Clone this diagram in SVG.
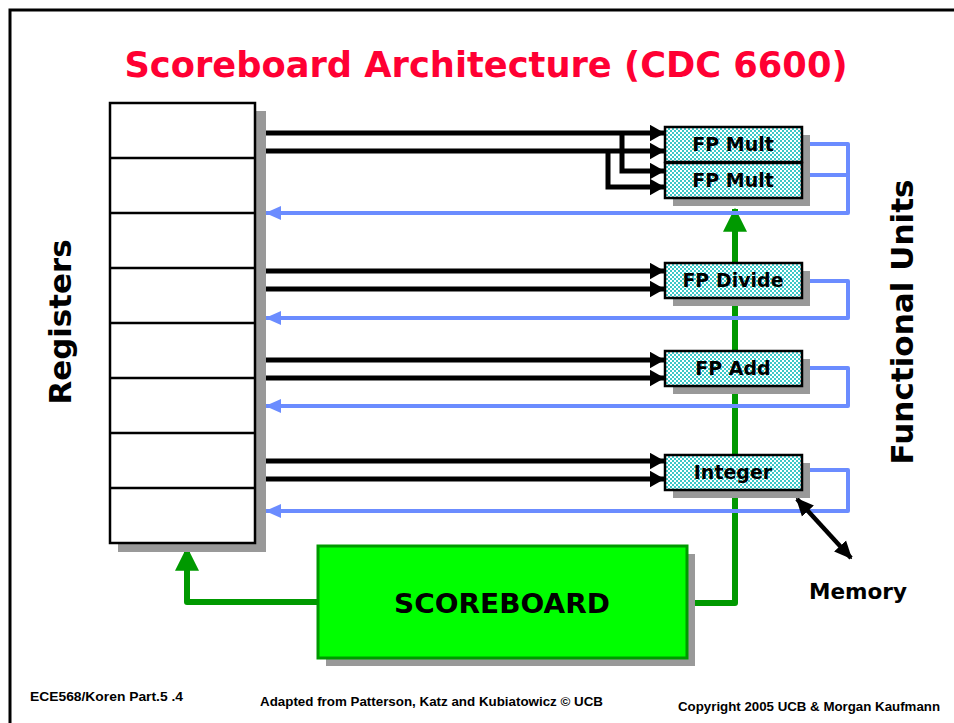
<svg xmlns="http://www.w3.org/2000/svg" width="954" height="723" viewBox="0 0 954 723">
<defs>
<style>
.shadow{fill:#999999}
.reg{fill:#ffffff;stroke:#000;stroke-width:2.5}
.fu{fill:url(#check);stroke:#000;stroke-width:2.5}
.fut{font-family:"DejaVu Sans","Liberation Sans",sans-serif;font-weight:bold;font-size:19px;fill:#000;text-anchor:middle}
.blk{stroke:#000;stroke-width:5;fill:none}
.blu{stroke:#6b8cff;stroke-width:4;fill:none;stroke-linejoin:round}
.grn{stroke:#009900;stroke-width:6;fill:none;stroke-linejoin:round}
.big{font-family:"DejaVu Sans","Liberation Sans",sans-serif;font-weight:bold;fill:#000}
.foot{font-family:"Liberation Sans",Arial,sans-serif;font-weight:bold;font-size:13px;fill:#000}
</style>
<pattern id="check" width="4" height="4" patternUnits="userSpaceOnUse">
<rect width="4" height="4" fill="#ffffff"/>
<rect width="2" height="2" fill="#3cc8c8"/>
<rect x="2" y="2" width="2" height="2" fill="#3cc8c8"/>
</pattern>
<marker id="ab" markerWidth="3" markerHeight="3.4" refX="2.9" refY="1.7" orient="auto" markerUnits="strokeWidth" viewBox="0 0 3 3.4">
<path d="M0,0 L3,1.7 L0,3.4 Z" fill="#000"/>
</marker>
<marker id="am" markerWidth="4" markerHeight="4" refX="3.6" refY="2" orient="auto" markerUnits="strokeWidth" viewBox="0 0 4 4">
<path d="M0,0.2 L4,2 L0,3.8 Z" fill="#000"/>
</marker>
<marker id="ams" markerWidth="4" markerHeight="4" refX="0.4" refY="2" orient="auto" markerUnits="strokeWidth" viewBox="0 0 4 4">
<path d="M4,0.2 L0,2 L4,3.8 Z" fill="#000"/>
</marker>
<marker id="ablu" markerWidth="4" markerHeight="4" refX="3.8" refY="2" orient="auto" markerUnits="strokeWidth" viewBox="0 0 4 4">
<path d="M0,0.2 L4,2 L0,3.8 Z" fill="#6b8cff"/>
</marker>
<marker id="agrn" markerWidth="4" markerHeight="4" refX="3.8" refY="2" orient="auto" markerUnits="strokeWidth" viewBox="0 0 4 4">
<path d="M0,0 L4,2 L0,4 Z" fill="#009900"/>
</marker>
</defs>
<rect width="954" height="723" fill="#ffffff"/>
<!-- frame -->
<path d="M10,723 V10 H954" fill="none" stroke="#000" stroke-width="3"/>
<text x="486" y="77" text-anchor="middle" font-family="DejaVu Sans,Liberation Sans,sans-serif" font-weight="bold" font-size="36" fill="#ff0033" textLength="723" lengthAdjust="spacingAndGlyphs">Scoreboard Architecture (CDC 6600)</text>

<!-- connectors -->
<g id="connectors">
<path class="grn" d="M688,603 H735 V209" marker-end="url(#agrn)"/>
<path class="grn" d="M318,602 H187 V548" marker-end="url(#agrn)"/>
<path class="blk" d="M266,133 H664" marker-end="url(#ab)"/>
<path class="blk" d="M266,151 H664" marker-end="url(#ab)"/>
<path class="blk" d="M622,133 V171 H664" marker-end="url(#ab)"/>
<path class="blk" d="M608,151 V187 H664" marker-end="url(#ab)"/>
<path class="blk" d="M266,271 H664" marker-end="url(#ab)"/>
<path class="blk" d="M266,289 H664" marker-end="url(#ab)"/>
<path class="blk" d="M266,360 H664" marker-end="url(#ab)"/>
<path class="blk" d="M266,378 H664" marker-end="url(#ab)"/>
<path class="blk" d="M266,461 H664" marker-end="url(#ab)"/>
<path class="blk" d="M266,479 H664" marker-end="url(#ab)"/>
<path class="blu" d="M802,144 H848 V213 H266" marker-end="url(#ablu)"/>
<path class="blu" d="M802,175 H848"/>
<path class="blu" d="M802,281 H848 V318 H266" marker-end="url(#ablu)"/>
<path class="blu" d="M802,368 H848 V406 H266" marker-end="url(#ablu)"/>
<path class="blu" d="M802,470 H848 V511 H266" marker-end="url(#ablu)"/>
<path d="M797,499 L851,558" stroke="#000" stroke-width="4.5" fill="none" marker-start="url(#ams)" marker-end="url(#am)"/>
</g>

<!-- registers -->
<g id="registers">
<rect class="shadow" x="118" y="111" width="148" height="441"/>
<rect class="reg" x="110" y="103" width="145" height="440"/>
<path d="M110,158 H255 M110,213 H255 M110,268 H255 M110,323 H255 M110,378 H255 M110,433 H255 M110,488 H255" stroke="#000" stroke-width="2.5"/>
</g>
<text class="big" font-size="30" transform="translate(71,322) rotate(-90)" text-anchor="middle" textLength="165" lengthAdjust="spacingAndGlyphs">Registers</text>
<text class="big" font-size="30" transform="translate(913,322) rotate(-90)" text-anchor="middle" textLength="285" lengthAdjust="spacingAndGlyphs">Functional Units</text>

<!-- functional units -->
<g id="fpmult1">
<rect class="shadow" x="673" y="135" width="137" height="71"/>
<rect class="fu" x="665" y="127" width="137" height="35"/>
<text class="fut" x="733" y="151">FP Mult</text>
</g>
<g id="fpmult2">
<rect class="fu" x="665" y="163" width="137" height="35"/>
<text class="fut" x="733" y="187">FP Mult</text>
</g>
<g id="fpdivide">
<rect class="shadow" x="673" y="271" width="137" height="35"/>
<rect class="fu" x="665" y="263" width="137" height="35"/>
<text class="fut" x="733" y="287">FP Divide</text>
</g>
<g id="fpadd">
<rect class="shadow" x="673" y="359" width="137" height="35"/>
<rect class="fu" x="665" y="351" width="137" height="35"/>
<text class="fut" x="733" y="375">FP Add</text>
</g>
<g id="integer">
<rect class="shadow" x="673" y="463" width="137" height="35"/>
<rect class="fu" x="665" y="455" width="137" height="35"/>
<text class="fut" x="733" y="479">Integer</text>
</g>

<!-- scoreboard -->
<g id="scoreboard">
<rect class="shadow" x="326" y="554" width="369" height="112"/>
<rect x="318" y="546" width="369" height="112" fill="#00ff00" stroke="#009900" stroke-width="3"/>
<text class="big" x="502" y="613" font-size="26" text-anchor="middle" textLength="216" lengthAdjust="spacingAndGlyphs">SCOREBOARD</text>
</g>

<g id="memory">
<text class="big" x="858" y="599" font-size="22" text-anchor="middle" textLength="98" lengthAdjust="spacingAndGlyphs">Memory</text>
</g>

<text class="foot" x="30" y="701" textLength="153" lengthAdjust="spacingAndGlyphs">ECE568/Koren Part.5 .4</text>
<text class="foot" x="260" y="706" textLength="343" lengthAdjust="spacingAndGlyphs">Adapted from Patterson, Katz and Kubiatowicz  © UCB</text>
<text class="foot" x="678" y="711" textLength="262" lengthAdjust="spacingAndGlyphs">Copyright 2005 UCB &amp; Morgan Kaufmann</text>
</svg>
